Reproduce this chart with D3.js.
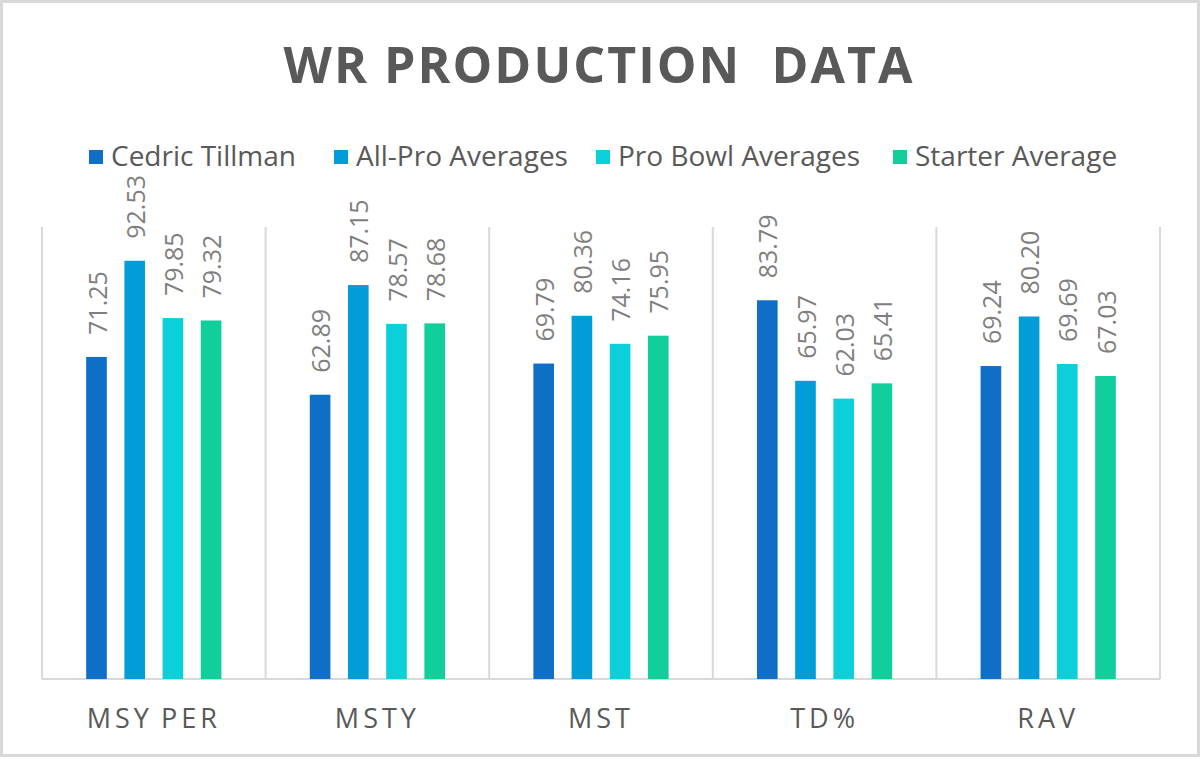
<!DOCTYPE html>
<html>
<head>
<meta charset="utf-8">
<script src="https://cdn.jsdelivr.net/npm/d3@7"></script>
<style>
  body { margin: 0; background: #fff; }
  svg { display: block; font-family: 'Open Sans', sans-serif; }
</style>
</head>
<body>
<svg id="chart" width="1200" height="759"></svg>
<script>
const categories = ['MSY PER', 'MSTY', 'MST', 'TD%', 'RAV'];
const seriesNames = ['Cedric Tillman', 'All-Pro Averages', 'Pro Bowl Averages', 'Starter Average'];
const cedric = [71.25, 62.89, 69.79, 83.79, 69.24];
const allPro = [92.53, 87.15, 80.36, 65.97, 80.20];
const proBowl = [79.85, 78.57, 74.16, 62.03, 69.69];
const starter = [79.32, 78.68, 75.95, 65.41, 67.03];
const colors = ['#0F6FC6', '#009DD9', '#0BD0D9', '#10CF9B'];

const values = [cedric, allPro, proBowl, starter];
const svg = d3.select('#chart');

// frame
svg.append('rect')
    .attr('x', 1.5).attr('y', 1.5)
    .attr('width', 1197).attr('height', 754)
    .attr('fill', '#fff')
    .attr('stroke', '#d9d9d9')
    .attr('stroke-width', 3);

// title
svg.append('text')
    .attr('x', 598).attr('y', 83)
    .attr('text-anchor', 'middle')
    .attr('font-size', 50)
    .attr('font-weight', 'bold')
    .attr('fill', '#595959')
    .attr('textLength', 629)
    .attr('lengthAdjust', 'spacing')
    .style('white-space', 'pre')
    .text('WR PRODUCTION  DATA');

// legend
const legendX = [89, 334, 596, 893];
const legend = svg.selectAll('.legend')
    .data(seriesNames)
    .join('g')
    .attr('class', 'legend')
    .attr('transform', (d, i) => `translate(${legendX[i]}, 150)`);

legend.append('rect')
    .attr('width', 14).attr('height', 14)
    .attr('fill', (d, i) => colors[i]);

legend.append('text')
    .attr('x', 22).attr('y', 16)
    .attr('font-size', 28)
    .attr('fill', '#595959')
    .text(d => d);

// plot
const plotLeft = 42, plotRight = 1160, plotTop = 227, plotBottom = 679;

const x0 = d3.scaleBand().domain(categories).range([plotLeft, plotRight]).padding(0);
const x1 = d3.scaleBand().domain(seriesNames).range([-76.4, 76.4]).paddingInner(0.46).paddingOuter(0.23);
const y = d3.scaleLinear().domain([0, 100]).range([plotBottom, plotTop]);

// category separators
const bounds = categories.map(c => x0(c)).concat([plotRight]);
svg.append('g')
    .selectAll('line')
    .data(bounds)
    .join('line')
    .attr('x1', d => d).attr('x2', d => d)
    .attr('y1', plotTop).attr('y2', plotBottom)
    .attr('stroke', '#d9d9d9')
    .attr('stroke-width', 2);

svg.append('line')
    .attr('x1', plotLeft).attr('x2', plotRight)
    .attr('y1', plotBottom).attr('y2', plotBottom)
    .attr('stroke', '#d9d9d9')
    .attr('stroke-width', 2);

const groups = svg.append('g')
    .selectAll('g')
    .data(categories)
    .join('g')
    .attr('transform', d => `translate(${x0(d) + x0.bandwidth() / 2}, 0)`);

const barData = (c, ci) => seriesNames.map((s, si) => ({ series: s, si: si, value: values[si][ci] }));

groups.selectAll('rect')
    .data((c, ci) => barData(c, ci))
    .join('rect')
    .attr('x', d => x1(d.series))
    .attr('width', x1.bandwidth())
    .attr('y', d => y(d.value))
    .attr('height', d => plotBottom - y(d.value))
    .attr('fill', d => colors[d.si]);

groups.selectAll('text.val')
    .data((c, ci) => barData(c, ci))
    .join('text')
    .attr('class', 'val')
    .attr('transform', d => `translate(${x1(d.series) + x1.bandwidth() / 2}, ${y(d.value) - 22}) rotate(-90)`)
    .attr('dominant-baseline', 'central')
    .attr('font-size', 25)
    .attr('fill', '#7f7f7f')
    .text(d => d.value.toFixed(2));

// category labels
groups.append('text')
    .attr('x', 0).attr('y', 728)
    .attr('text-anchor', 'middle')
    .attr('font-size', 27)
    .attr('fill', '#595959')
    .attr('letter-spacing', 4)
    .attr('word-spacing', -3)
    .text(d => d);
</script>
</body>
</html>
